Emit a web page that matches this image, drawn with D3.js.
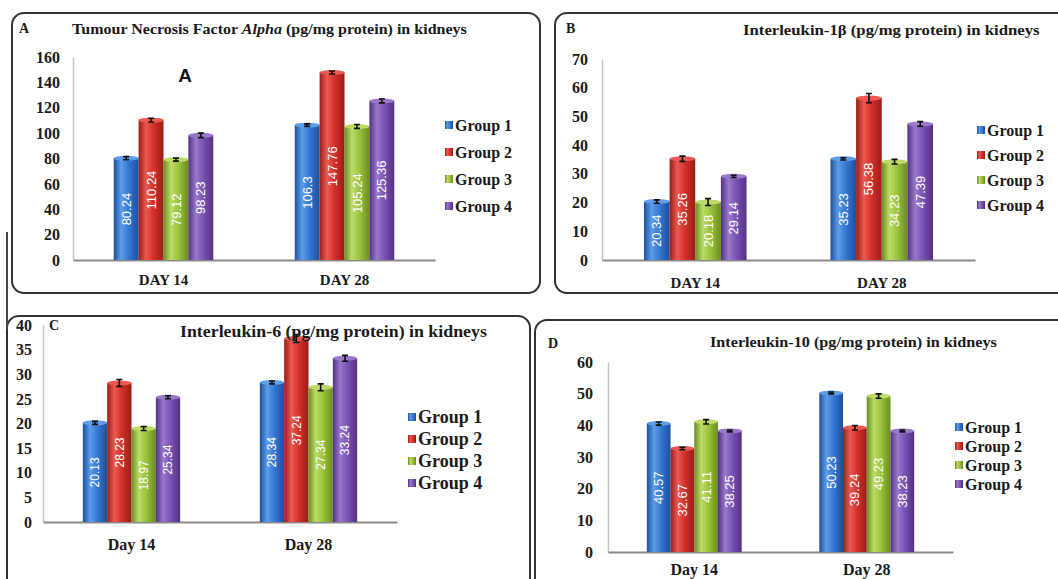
<!DOCTYPE html>
<html>
<head>
<meta charset="utf-8">
<script src="https://cdn.jsdelivr.net/npm/d3@7"></script>
<style>
  body { margin: 0; background: #fff; }
  svg { display: block; }
  .serif { font-family: "Liberation Serif", "DejaVu Serif", serif; font-weight: bold; fill: #1a1a1a; }
</style>
</head>
<body>
<div id="chart"></div>
<script>
// groups and days
var groups = ["Group 1", "Group 2", "Group 3", "Group 4"];
var daysUpper = ["DAY 14", "DAY 28"];
var daysLower = ["Day 14", "Day 28"];

// A - TNF alpha
var tnfDay14 = [80.24, 110.24, 79.12, 98.23];
var tnfDay28 = [106.3, 147.76, 105.24, 125.36];
var tnfErr14 = [1.2, 1.5, 1.2, 1.8];
var tnfErr28 = [1.0, 1.2, 1.5, 1.5];
var tnfTicks = [0, 20, 40, 60, 80, 100, 120, 140, 160];

// B - IL-1 beta
var il1Day14 = [20.34, 35.26, 20.18, 29.14];
var il1Day28 = [35.23, 56.38, 34.23, 47.39];
var il1Err14 = [0.6, 0.9, 1.2, 0.4];
var il1Err28 = [0.4, 1.6, 0.8, 0.8];
var il1Ticks = [0, 10, 20, 30, 40, 50, 60, 70];

// C - IL-6
var il6Day14 = [20.13, 28.23, 18.97, 25.34];
var il6Day28 = [28.34, 37.24, 27.34, 33.24];
var il6Err14 = [0.3, 0.7, 0.4, 0.3];
var il6Err28 = [0.3, 0.8, 0.7, 0.6];
var il6Ticks = [0, 5, 10, 15, 20, 25, 30, 35, 40];

// D - IL-10
var il10Day14 = [40.57, 32.67, 41.11, 38.25];
var il10Day28 = [50.23, 39.24, 49.23, 38.23];
var il10Err14 = [0.5, 0.4, 0.7, 0.3];
var il10Err28 = [0.3, 0.7, 0.7, 0.3];
var il10Ticks = [0, 10, 20, 30, 40, 50, 60];

// bar colours: dark edge, light middle, base
var palette = [
  { dark: "#1d4f9c", light: "#5e9de8", base: "#3577d3" },
  { dark: "#9a1c17", light: "#ea5a50", base: "#d4302a" },
  { dark: "#6a8d22", light: "#bddb66", base: "#9cc23d" },
  { dark: "#4f3282", light: "#9a78cc", base: "#7a52b4" }
];

var svg = d3.select("#chart").append("svg")
  .attr("width", 1058)
  .attr("height", 579);

var defs = svg.append("defs");
palette.forEach(function(c, i) {
  var g = defs.append("linearGradient")
    .attr("id", "bar" + i)
    .attr("x1", 0).attr("x2", 1).attr("y1", 0).attr("y2", 0);
  g.append("stop").attr("offset", "0%").attr("stop-color", c.dark);
  g.append("stop").attr("offset", "30%").attr("stop-color", c.light);
  g.append("stop").attr("offset", "60%").attr("stop-color", c.base);
  g.append("stop").attr("offset", "100%").attr("stop-color", c.dark);
});

// panel frames (rounded boxes)
function frame(x, y, w, h) {
  svg.append("rect")
    .attr("x", x).attr("y", y)
    .attr("width", w).attr("height", h)
    .attr("rx", 12).attr("ry", 12)
    .attr("fill", "none")
    .attr("stroke", "#333")
    .attr("stroke-width", 2);
}
frame(12, 13, 528, 280);
frame(555, 13, 520, 280);
frame(7, 316, 523, 280);
frame(535, 320, 540, 280);
svg.append("line")
  .attr("x1", 7).attr("x2", 7).attr("y1", 232).attr("y2", 330)
  .attr("stroke", "#444").attr("stroke-width", 2);

// stretch a text horizontally so it covers the wanted width
function fitWidth(sel, x, y, w) {
  var natural = sel.node().getComputedTextLength();
  sel.attr("x", 0).attr("y", 0)
    .attr("transform", `translate(${x},${y}) scale(${w / natural},1)`);
}

function drawPanel(p) {
  var day14 = p.day14, day28 = p.day28;
  var rows = [
    { day: p.days[0], vals: day14, errs: p.err14 },
    { day: p.days[1], vals: day28, errs: p.err28 }
  ];

  var y = d3.scaleLinear()
    .domain([0, p.ticks[p.ticks.length - 1]])
    .range([p.bottom, p.top]);

  var x0 = d3.scaleBand()
    .domain(p.days)
    .range([p.left, p.right])
    .paddingInner(0.45)
    .paddingOuter(0.225);

  var x1 = d3.scaleBand()
    .domain(groups)
    .range([0, x0.bandwidth()]);

  // y axis
  var yAxis = svg.append("g")
    .attr("transform", `translate(${p.left},0)`)
    .call(d3.axisLeft(y).tickValues(p.ticks).tickSize(0).tickSizeOuter(0)
      .tickPadding(p.left - p.labelRight));
  yAxis.select(".domain").attr("stroke", "#c4c4c4").attr("stroke-width", 1.5);
  yAxis.selectAll("text")
    .attr("class", "serif")
    .style("font-size", p.tickFont + "px");

  // x axis
  var xAxis = svg.append("g")
    .attr("transform", `translate(0,${p.bottom})`)
    .call(d3.axisBottom(x0).tickSize(0).tickSizeOuter(0).tickPadding(p.catPad));
  xAxis.select(".domain").attr("stroke", "#8a8a8a").attr("stroke-width", 2);
  xAxis.selectAll("text")
    .attr("class", "serif")
    .style("font-size", p.catFont + "px");

  // bars
  var dayG = svg.selectAll(null)
    .data(rows)
    .enter()
    .append("g")
    .attr("transform", d => `translate(${x0(d.day)},0)`);

  var bars = dayG.selectAll("g")
    .data(d => d.vals.map((v, i) => ({ v: v, e: d.errs[i], i: i })))
    .enter()
    .append("g");

  bars.append("rect")
    .attr("x", d => x1(groups[d.i]))
    .attr("y", d => y(d.v))
    .attr("width", x1.bandwidth())
    .attr("height", d => p.bottom - y(d.v))
    .attr("fill", d => `url(#bar${d.i})`);

  // top cap of the cylinder
  bars.append("ellipse")
    .attr("cx", d => x1(groups[d.i]) + x1.bandwidth() / 2)
    .attr("cy", d => y(d.v))
    .attr("rx", x1.bandwidth() / 2)
    .attr("ry", 2.5)
    .attr("fill", d => palette[d.i].light);

  // error bars
  bars.append("path")
    .attr("d", function(d) {
      var cx = x1(groups[d.i]) + x1.bandwidth() / 2;
      var t = y(d.v + d.e), b = y(d.v - d.e);
      return `M${cx},${t}V${b}M${cx - 3},${t}H${cx + 3}M${cx - 3},${b}H${cx + 3}`;
    })
    .attr("stroke", "#111")
    .attr("stroke-width", 1.6)
    .attr("fill", "none");

  // value labels, rotated, inside bars
  bars.append("text")
    .attr("transform", function(d) {
      var cx = x1(groups[d.i]) + x1.bandwidth() / 2;
      var cy = (y(d.v) + p.bottom) / 2;
      return `translate(${cx},${cy}) rotate(-90)`;
    })
    .attr("text-anchor", "middle")
    .attr("dy", "0.35em")
    .attr("fill", "#fff")
    .style("font-family", "'Liberation Sans Narrow', 'Liberation Sans', sans-serif")
    .style("font-size", p.valFont + "px")
    .text(d => d.v);

  // legend
  var leg = svg.selectAll(null)
    .data(groups)
    .enter()
    .append("g")
    .attr("transform", (d, i) => `translate(${p.legX},${p.legY + i * p.legDy})`);
  leg.append("rect")
    .attr("x", 0).attr("y", -4)
    .attr("width", 8).attr("height", 8)
    .attr("fill", (d, i) => `url(#bar${i})`);
  leg.append("text")
    .attr("class", "serif")
    .attr("x", 10)
    .attr("dy", "0.35em")
    .style("font-size", p.legFont + "px")
    .text(d => d);

  // title and panel letter
  var title = svg.append("text")
    .attr("class", "serif")
    .style("font-size", p.titleFont + "px");
  if (p.titleItalic) {
    title.append("tspan").text(p.title[0]);
    title.append("tspan").style("font-style", "italic").text(p.title[1]);
    title.append("tspan").text(p.title[2]);
  } else {
    title.text(p.title);
  }
  fitWidth(title, p.titleX, p.titleY, p.titleW);

  svg.append("text")
    .attr("class", "serif")
    .attr("x", p.letterX)
    .attr("y", p.letterY)
    .style("font-size", "14px")
    .text(p.letter);
}

drawPanel({
  day14: tnfDay14, day28: tnfDay28, err14: tnfErr14, err28: tnfErr28,
  ticks: tnfTicks, days: daysUpper,
  left: 73, right: 435, top: 57, bottom: 260, labelRight: 60,
  tickFont: 16, catFont: 15, catPad: 14, valFont: 13,
  legX: 445, legY: 125, legDy: 27, legFont: 16,
  title: ["Tumour Necrosis Factor ", "Alpha", " (pg/mg protein) in kidneys"], titleItalic: true,
  titleX: 72, titleY: 34, titleFont: 15, titleW: 395,
  letter: "A", letterX: 19, letterY: 33
});

drawPanel({
  day14: il1Day14, day28: il1Day28, err14: il1Err14, err28: il1Err28,
  ticks: il1Ticks, days: daysUpper,
  left: 602, right: 975, top: 59, bottom: 260, labelRight: 588,
  tickFont: 16, catFont: 15, catPad: 17, valFont: 13,
  legX: 977, legY: 130, legDy: 25, legFont: 16,
  title: "Interleukin-1\u03b2 (pg/mg protein) in kidneys",
  titleX: 743, titleY: 35, titleFont: 15, titleW: 297,
  letter: "B", letterX: 566, letterY: 33
});

drawPanel({
  day14: il6Day14, day28: il6Day28, err14: il6Err14, err28: il6Err28,
  ticks: il6Ticks, days: daysLower,
  left: 43, right: 397, top: 325, bottom: 522, labelRight: 32,
  tickFont: 16, catFont: 16, catPad: 17, valFont: 12,
  legX: 408, legY: 417, legDy: 22, legFont: 18,
  title: "Interleukin-6 (pg/mg protein) in kidneys",
  titleX: 180, titleY: 337, titleFont: 16, titleW: 307,
  letter: "C", letterX: 49, letterY: 330
});

drawPanel({
  day14: il10Day14, day28: il10Day28, err14: il10Err14, err28: il10Err28,
  ticks: il10Ticks, days: daysLower,
  left: 608, right: 953, top: 362, bottom: 552, labelRight: 593,
  tickFont: 16, catFont: 16, catPad: 12, valFont: 13,
  legX: 955, legY: 427, legDy: 19, legFont: 16,
  title: "Interleukin-10 (pg/mg protein) in kidneys",
  titleX: 710, titleY: 347, titleFont: 15, titleW: 287,
  letter: "D", letterX: 548, letterY: 348
});

// the big "A" inside panel A
svg.append("text")
  .attr("x", 185)
  .attr("y", 82)
  .attr("text-anchor", "middle")
  .style("font-family", "'Liberation Sans', Arial, sans-serif")
  .style("font-weight", "bold")
  .style("font-size", "19px")
  .attr("fill", "#111")
  .text("A");
</script>
</body>
</html>
